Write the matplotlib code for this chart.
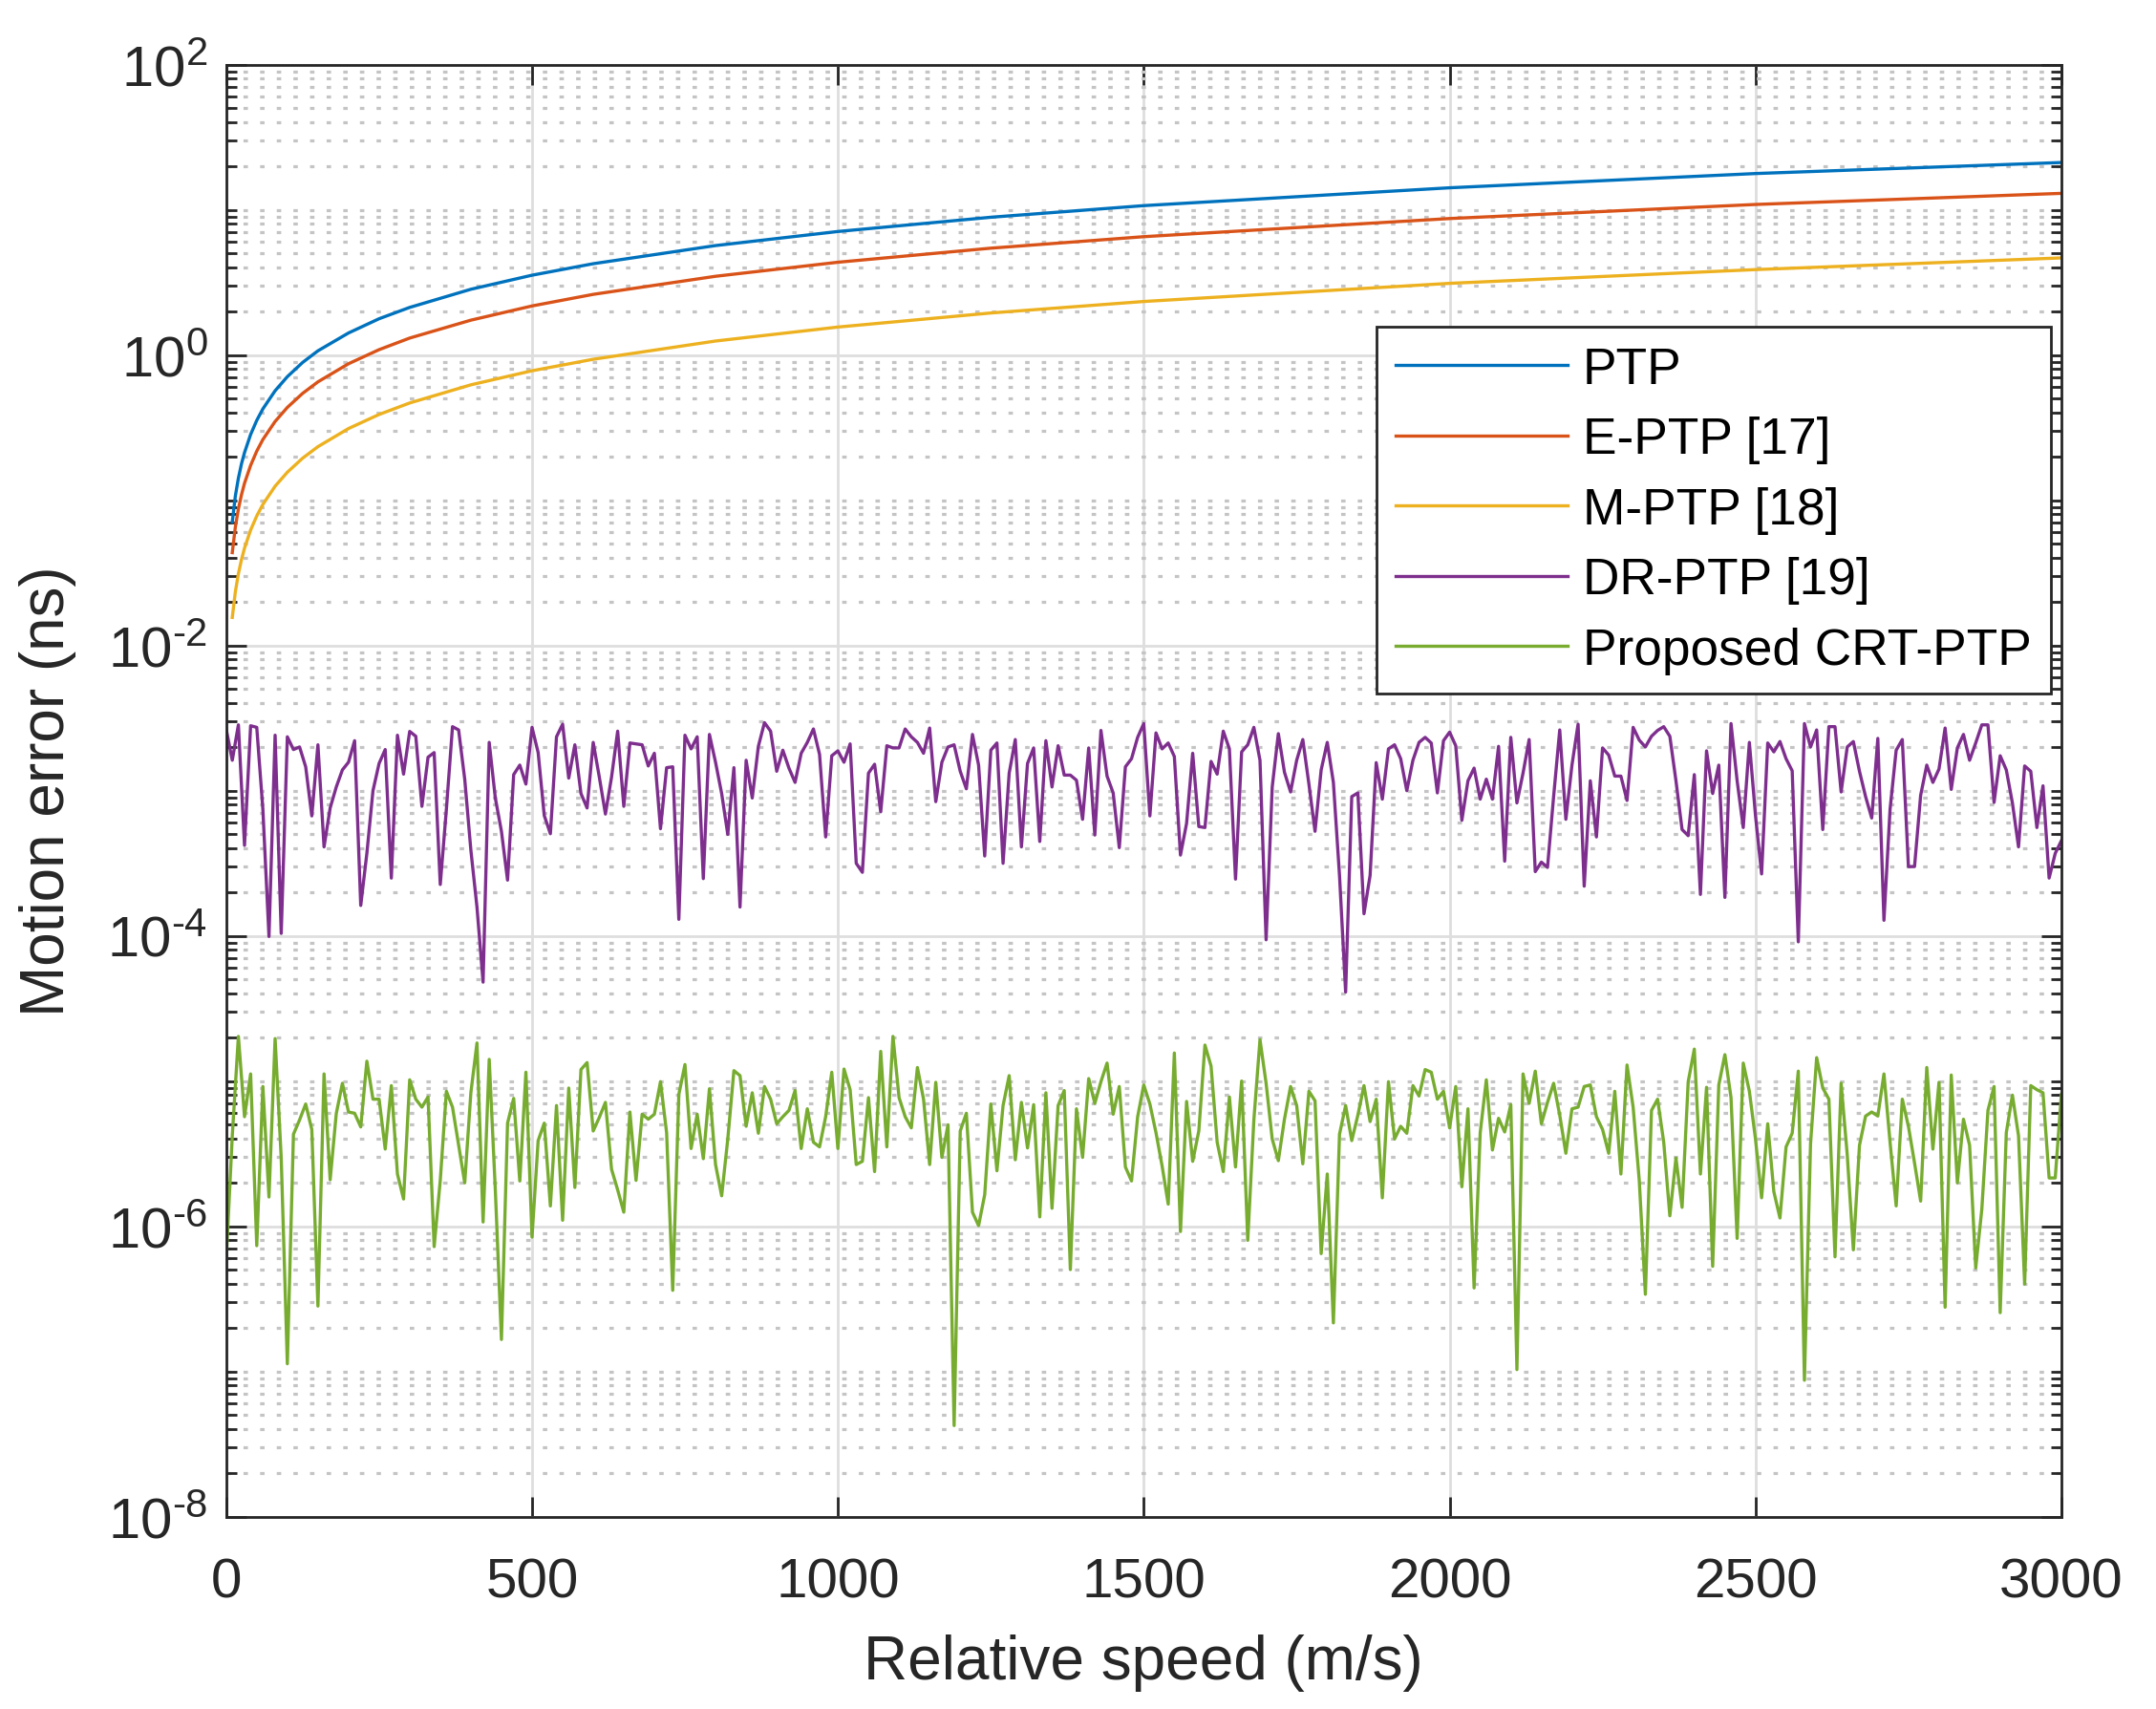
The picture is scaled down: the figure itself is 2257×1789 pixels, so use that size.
import numpy as np
import matplotlib
matplotlib.use("Agg")
import matplotlib.pyplot as plt
from matplotlib.ticker import LogLocator, FuncFormatter, NullLocator, NullFormatter

plt.rcParams['font.family'] = ['Liberation Sans', 'DejaVu Sans']
plt.rcParams['mathtext.fontset'] = 'custom'
plt.rcParams['mathtext.rm'] = 'Liberation Sans'
plt.rcParams['mathtext.it'] = 'Liberation Sans:italic'
plt.rcParams['mathtext.bf'] = 'Liberation Sans:bold'

# ---------------- data ----------------
speed_curve = [10, 15, 20, 25, 30, 40, 50, 60, 80, 100, 125, 150, 200, 250, 300,
               400, 500, 600, 800, 1000, 1250, 1500, 2000, 2500, 3000]
ptp = [0.071, 0.107, 0.142, 0.178, 0.213, 0.284, 0.355, 0.426, 0.568, 0.71, 0.89,
       1.07, 1.42, 1.78, 2.13, 2.84, 3.55, 4.26, 5.68, 7.1, 8.9, 10.7, 14.2, 17.8, 21.2]
e_ptp = [0.0436, 0.0654, 0.0872, 0.109, 0.131, 0.174, 0.218, 0.262, 0.349, 0.436,
         0.545, 0.654, 0.872, 1.09, 1.31, 1.74, 2.18, 2.62, 3.49, 4.36, 5.45, 6.54,
         8.72, 10.9, 13.0]
m_ptp = [0.0156, 0.0234, 0.0312, 0.039, 0.0468, 0.0624, 0.078, 0.0936, 0.125, 0.156,
         0.195, 0.234, 0.312, 0.39, 0.468, 0.624, 0.78, 0.936, 1.25, 1.56, 1.95, 2.34,
         3.12, 3.88, 4.67]

speed_noise = np.arange(0, 3001, 10)

# DR-PTP [19], values in units of 1e-3 ns
dr_ptp_e3 = [
    2.66, 1.62, 2.84, 0.42, 2.80, 2.73, 0.745, 0.099, 2.41, 0.104,
    2.35, 1.92, 2.0, 1.46, 0.67, 2.07, 0.41, 0.76, 1.06, 1.39,
    1.57, 2.21, 0.162, 0.37, 1.0, 1.54, 1.92, 0.25, 2.41, 1.30,
    2.56, 2.37, 0.78, 1.70, 1.83, 0.226, 0.745, 2.76, 2.62, 1.20,
    0.39, 0.158, 0.048, 2.15, 0.89, 0.525, 0.242, 1.29, 1.50, 1.11,
    2.73, 1.83, 0.674, 0.505, 2.35, 2.87, 1.22, 2.07, 0.956, 0.76,
    2.15, 1.24, 0.69, 1.24, 2.57, 0.78, 2.13, 2.10, 2.07, 1.48,
    1.81, 0.547, 1.44, 1.46, 0.13, 2.41, 1.94, 2.35, 0.248, 2.44,
    1.57, 0.956, 0.50, 1.44, 0.158, 1.62, 0.89, 2.02, 2.94, 2.57,
    1.36, 1.90, 1.43, 1.14, 1.81, 2.15, 2.66, 1.78, 0.48, 1.74,
    1.88, 1.57, 2.10, 0.316, 0.274, 1.32, 1.52, 0.715, 2.04, 1.97,
    1.97, 2.66, 2.35, 2.15, 1.81, 2.70, 0.84, 1.57, 2.0, 2.07,
    1.36, 1.03, 2.44, 1.50, 0.355, 1.90, 2.13, 0.316, 1.32, 2.25,
    0.41, 1.54, 1.97, 0.447, 2.21, 1.06, 2.04, 1.28, 1.28, 1.18,
    0.635, 1.97, 0.495, 2.60, 1.26, 0.965, 0.405, 1.46, 1.66, 2.33,
    2.9, 0.67, 2.5, 1.94, 2.13, 1.72, 0.36, 0.595, 1.81, 0.566,
    0.557, 1.59, 1.30, 2.57, 1.94, 0.246, 1.85, 2.07, 2.73, 1.62,
    0.094, 1.06, 2.47, 1.34, 0.98, 1.62, 2.25, 1.11, 0.525, 1.39,
    2.15, 1.14, 0.261, 0.041, 0.91, 0.965, 0.142, 0.261, 1.56, 0.874,
    1.94, 2.07, 1.66, 1.0, 1.62, 2.15, 2.33, 2.13, 0.965, 2.21,
    2.53, 2.04, 0.625, 1.17, 1.43, 0.874, 1.20, 0.874, 2.02, 0.327,
    2.33, 0.823, 1.32, 2.25, 0.277, 0.322, 0.296, 0.91, 2.62, 0.635,
    1.50, 2.87, 0.22, 1.17, 0.48, 1.97, 1.76, 1.26, 1.26, 0.856,
    2.73, 2.23, 2.0, 2.37, 2.60, 2.76, 2.37, 1.17, 0.54, 0.49,
    1.29, 0.193, 1.88, 0.956, 1.50, 0.184, 2.9, 1.17, 0.557, 2.15,
    0.674, 0.267, 2.13, 1.85, 2.18, 1.66, 1.37, 0.091, 2.9, 2.0,
    2.62, 0.54, 2.76, 2.76, 0.98, 2.0, 2.18, 1.36, 0.91, 0.648,
    2.29, 0.128, 0.745, 1.90, 2.25, 0.30, 0.30, 0.93, 1.50, 1.14,
    1.41, 2.70, 1.02, 1.97, 2.44, 1.62, 2.13, 2.84, 2.84, 0.83,
    1.74, 1.39, 0.823, 0.41, 1.48, 1.36, 0.557, 1.08, 0.25, 0.37,
    0.452]

# Proposed CRT-PTP, values in units of 1e-6 ns
crt_ptp_e6 = [
    0.572, 4.20, 20.3, 5.68, 11.2, 0.735, 9.17, 1.59, 19.6, 2.95,
    0.113, 4.30, 5.40, 6.95, 4.64, 0.282, 11.2, 2.09, 5.97, 9.65,
    6.12, 6.0, 4.83, 13.7, 7.5, 7.5, 3.40, 9.3, 2.29, 1.54,
    10.2, 7.5, 6.61, 7.77, 0.724, 2.07, 8.5, 6.61, 3.61, 1.99,
    8.3, 18.3, 1.07, 14.1, 1.78, 0.166, 5.13, 7.6, 2.05, 11.5,
    0.842, 3.89, 5.13, 1.38, 6.78, 1.10, 8.95, 1.85, 12.0, 13.4,
    4.53, 5.62, 7.13, 2.47, 1.78, 1.25, 6.12, 2.07, 5.91, 5.46,
    5.91, 9.9, 4.41, 0.362, 8.09, 13.0, 3.43, 5.91, 2.92, 8.85,
    2.66, 1.62, 3.99, 11.8, 10.9, 4.88, 8.3, 4.37, 9.17, 7.5,
    5.08, 5.68, 6.28, 8.6, 3.43, 6.44, 3.79, 3.52, 5.68, 11.5,
    3.43, 12.1, 8.72, 2.66, 2.80, 7.69, 2.38, 16.0, 3.52, 20.3,
    7.69, 5.68, 4.76, 12.4, 7.5, 2.66, 9.8, 2.98, 5.0, 0.0424,
    4.53, 6.0, 1.25, 1.01, 1.65, 6.95, 2.41, 6.78, 10.9, 2.87,
    7.13, 3.46, 6.88, 1.16, 8.3, 1.33, 6.78, 8.6, 0.503, 6.44,
    2.98, 10.4, 7.02, 9.9, 13.3, 5.91, 9.17, 2.56, 2.05, 5.68,
    9.4, 6.95, 4.41, 2.60, 1.42, 15.6, 0.92, 7.24, 2.80, 4.53,
    17.7, 12.7, 3.79, 2.38, 7.77, 2.56, 10.0, 0.80, 5.40, 19.3,
    9.65, 3.99, 2.83, 5.46, 9.17, 6.78, 2.69, 8.5, 7.31, 0.648,
    2.29, 0.216, 4.30, 6.78, 3.89, 5.82, 9.3, 5.26, 7.5, 1.57,
    9.9, 3.99, 4.88, 4.37, 9.3, 7.89, 12.0, 11.5, 7.5, 8.5,
    4.76, 9.17, 1.87, 6.44, 0.376, 4.41, 10.2, 3.35, 5.54, 4.46,
    6.88, 0.103, 11.2, 7.02, 11.7, 5.08, 7.13, 9.65, 5.82, 3.18,
    6.44, 6.61, 9.17, 9.4, 5.68, 4.64, 3.18, 8.5, 2.29, 12.9,
    6.61, 2.07, 0.34, 6.28, 7.5, 3.79, 1.18, 2.95, 1.35, 9.9,
    16.6, 2.29, 9.05, 0.53, 9.4, 15.2, 7.69, 0.825, 13.3, 8.5,
    3.99, 1.57, 5.08, 1.73, 1.14, 3.52, 4.37, 11.7, 0.087, 3.70,
    14.5, 8.95, 7.5, 0.616, 9.65, 3.10, 0.688, 3.61, 5.74, 6.12,
    5.74, 11.2, 3.79, 1.38, 7.5, 4.88, 2.73, 1.49, 12.4, 3.40,
    9.8, 0.277, 11.0, 1.99, 5.46, 3.61, 0.516, 1.31, 6.28, 9.17,
    0.254, 4.41, 8.0, 4.20, 0.40, 9.3, 8.72, 8.3, 2.15, 2.15,
    8.09]

dr_ptp = np.array(dr_ptp_e3) * 1e-3
crt_ptp = np.array(crt_ptp_e6) * 1e-6

labels = ['PTP', 'E-PTP [17]', 'M-PTP [18]', 'DR-PTP [19]', 'Proposed CRT-PTP']
colors = ['#0072BD', '#D95319', '#EDB120', '#7E2F8E', '#77AC30']
x_ticks = [0, 500, 1000, 1500, 2000, 2500, 3000]

# ---------------- figure ----------------
fig = plt.figure(figsize=(11.285, 8.95), dpi=200)
ax = fig.add_axes([0.1049, 0.1125, 0.8512, 0.8491])

lw = 1.2
ax.plot(speed_curve, ptp, color=colors[0], lw=lw, label=labels[0])
ax.plot(speed_curve, e_ptp, color=colors[1], lw=lw, label=labels[1])
ax.plot(speed_curve, m_ptp, color=colors[2], lw=lw, label=labels[2])
ax.plot(speed_noise, dr_ptp, color=colors[3], lw=lw, label=labels[3])
ax.plot(speed_noise, crt_ptp, color=colors[4], lw=lw, label=labels[4])

ax.set_yscale('log')
ax.set_xlim(0, 3000)
ax.set_ylim(1e-8, 1e2)


def exp_label(y, _):
    e = int(round(np.log10(y)))
    if e < 0:
        return r'$\mathregular{10^{\text{-}%d}}$' % (-e)
    return r'$\mathregular{10^{%d}}$' % e


ax.set_xticks(x_ticks)
ax.xaxis.set_minor_locator(NullLocator())
ax.yaxis.set_major_locator(LogLocator(base=100.0, numticks=20))
ax.yaxis.set_minor_locator(LogLocator(base=10.0, subs=np.arange(1, 10), numticks=60))
ax.yaxis.set_major_formatter(FuncFormatter(exp_label))
ax.yaxis.set_minor_formatter(NullFormatter())

dark = '#262626'
for s in ax.spines.values():
    s.set_color(dark)
    s.set_linewidth(1.0)

ax.tick_params(which='both', direction='in', top=True, right=True, color=dark, width=1.0)
ax.tick_params(which='major', length=7.4)
ax.tick_params(which='minor', length=3.8)
ax.tick_params(axis='x', which='major', labelsize=21, pad=15, labelcolor=dark)
ax.tick_params(axis='y', which='major', labelsize=21.5, pad=7, labelcolor=dark)

ax.set_axisbelow(True)
ax.grid(True, which='major', color='#dedede', linewidth=1.0, linestyle='-')
ax.yaxis.grid(True, which='minor', color='#c4c4c4', linewidth=1.15, linestyle=(0, (1.45, 4.0)))

ax.set_xlabel('Relative speed (m/s)', fontsize=23, color=dark)
ax.set_ylabel('Motion error (ns)', fontsize=23, color=dark, va='center')
ax.xaxis.set_label_coords(0.5, -0.1)
ax.xaxis.label.set_verticalalignment('center')
ax.yaxis.set_label_coords(-0.0972, 0.5)

leg = ax.legend(loc='upper right', bbox_to_anchor=(0.9943, 0.8198), borderaxespad=0,
                frameon=True, fancybox=False, edgecolor=dark, framealpha=1,
                fontsize=19.2, handlelength=3.37, handletextpad=0.3,
                labelspacing=0.44, borderpad=0.38)
leg.get_frame().set_linewidth(1.0)

fig.savefig('out.png', dpi=200, facecolor='white')
